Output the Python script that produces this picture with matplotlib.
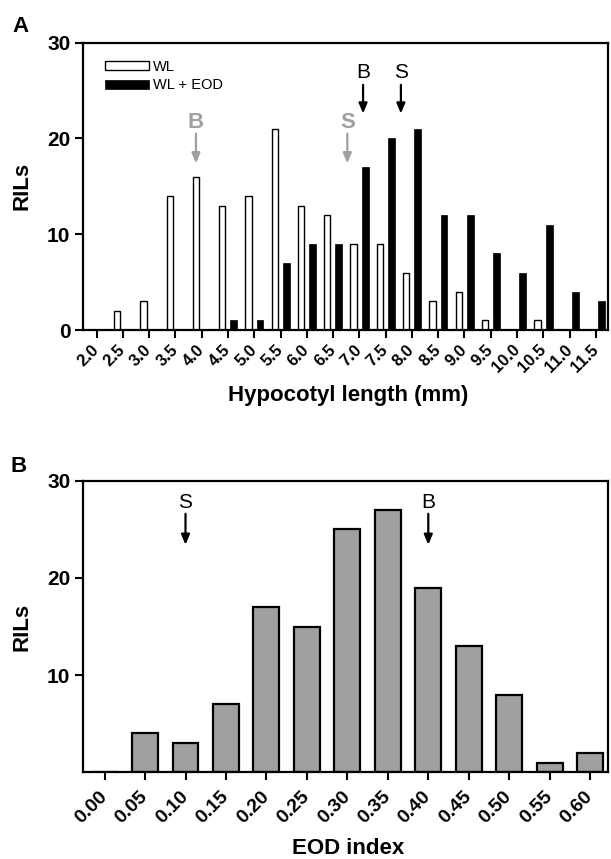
import numpy as np
import matplotlib
matplotlib.use("Agg")
import matplotlib.pyplot as plt

plt.rcParams['font.family'] = ['Liberation Sans', 'DejaVu Sans']

# panel A: hypocotyl length histogram
hyp_bins = [2.0, 2.5, 3.0, 3.5, 4.0, 4.5, 5.0, 5.5, 6.0, 6.5,
            7.0, 7.5, 8.0, 8.5, 9.0, 9.5, 10.0, 10.5, 11.0, 11.5]
wl_counts = [0, 2, 3, 14, 16, 13, 14, 21, 13, 12, 9, 9, 6, 3, 4, 1, 0, 1, 0, 0]
eod_counts = [0, 0, 0, 0, 0, 1, 1, 7, 9, 9, 17, 20, 21, 12, 12, 8, 6, 11, 4, 3]
# parent means (label, x, colour)
marks_a = [("B", 3.89, "grey"), ("S", 6.77, "grey"), ("B", 7.07, "black"), ("S", 7.79, "black")]

# panel B: EOD index histogram
eod_bins = [0.00, 0.05, 0.10, 0.15, 0.20, 0.25, 0.30, 0.35, 0.40, 0.45, 0.50, 0.55, 0.60]
eod_index_counts = [0, 4, 3, 7, 17, 15, 25, 27, 19, 13, 8, 1, 2]
marks_b = [("S", 0.10), ("B", 0.40)]

GREY = "#a0a0a0"

fig = plt.figure(figsize=(6.11, 8.59), dpi=100)
axA = fig.add_axes([0.1358, 0.6158, 0.8592, 0.3345])
axB = fig.add_axes([0.1358, 0.1009, 0.8592, 0.3395])

for ax in (axA, axB):
    for sp in ax.spines.values():
        sp.set_linewidth(1.6)
    ax.tick_params(width=1.5, length=5.5, direction='out', top=False, right=False)

# ----- A -----
x = np.array(hyp_bins)
axA.bar(x - 0.11, wl_counts, width=0.12, color='white', edgecolor='black', linewidth=1.0, label='WL')
axA.bar(x + 0.11, eod_counts, width=0.13, color='black', edgecolor='black', linewidth=0.5, label='WL + EOD')
axA.set_xlim(1.74, 11.73)
axA.set_ylim(0, 30)
axA.set_yticks([0, 10, 20, 30])
axA.set_xticks(hyp_bins)
axA.set_xticklabels([f"{v:.1f}" for v in hyp_bins], rotation=45, ha='right',
                    va='center', rotation_mode='anchor', fontsize=12, fontweight='bold')
axA.tick_params(axis='x', pad=7)
for t in axA.get_yticklabels():
    t.set_fontsize(15)
    t.set_fontweight('bold')
axA.set_ylabel("RILs", fontsize=16, fontweight='bold')
axA.yaxis.set_label_coords(-0.097, 0.5)
axA.set_xlabel("Hypocotyl length (mm)", fontsize=16, fontweight='bold')
axA.xaxis.set_label_coords(0.505, -0.19)

leg = axA.legend(loc='upper left', bbox_to_anchor=(0.042, 0.94), frameon=False,
                 fontsize=10.5, handlelength=3.0, handleheight=0.55, handletextpad=0.3,
                 labelspacing=0.3, borderpad=0, borderaxespad=0)

for lab, xv, col in marks_a:
    if col == "grey":
        c, fw, ty, y0, y1, fs = GREY, 'bold', 21.7, 20.5, 17.4, 16
    else:
        c, fw, ty, y0, y1, fs = 'black', 'normal', 26.9, 25.6, 22.6, 15
    axA.text(xv, ty, lab, color=c, fontweight=fw, fontsize=fs, ha='center', va='center')
    axA.annotate('', xy=(xv, y1), xytext=(xv, y0),
                 arrowprops=dict(arrowstyle='-|>,head_length=0.6,head_width=0.25',
                                 color=c, lw=1.6, shrinkA=0, shrinkB=0))

# ----- B -----
axB.bar(eod_bins, eod_index_counts, width=0.032, color=GREY, edgecolor='black', linewidth=1.6)
axB.set_xlim(-0.0267, 0.622)
axB.set_ylim(0, 30)
axB.set_yticks([10, 20, 30])
axB.set_xticks(eod_bins)
axB.set_xticklabels([f"{v:.2f}" for v in eod_bins], rotation=45, ha='right',
                    va='center', rotation_mode='anchor', fontsize=14, fontweight='bold')
axB.tick_params(axis='x', pad=10)
for t in axB.get_yticklabels():
    t.set_fontsize(15)
    t.set_fontweight('bold')
axB.set_ylabel("RILs", fontsize=16, fontweight='bold')
axB.yaxis.set_label_coords(-0.097, 0.5)
axB.set_xlabel("EOD index", fontsize=16, fontweight='bold')
axB.xaxis.set_label_coords(0.505, -0.225)

for lab, xv in marks_b:
    axB.text(xv, 27.8, lab, fontsize=15, ha='center', va='center')
    axB.annotate('', xy=(xv, 23.4), xytext=(xv, 26.6),
                 arrowprops=dict(arrowstyle='-|>,head_length=0.6,head_width=0.25',
                                 color='black', lw=1.6, shrinkA=0, shrinkB=0))

fig.text(12 / 611, 1 - 31.5 / 859, "A", fontsize=16, fontweight='bold', ha='left', va='baseline')
fig.text(10 / 611, 1 - 471.5 / 859, "B", fontsize=16, fontweight='bold', ha='left', va='baseline')

fig.savefig("out.png", dpi=100)
